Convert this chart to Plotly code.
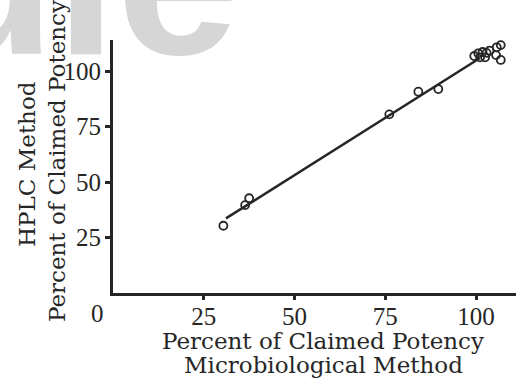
import plotly.graph_objects as go

# Data
micro_pct = [30.4, 37.5, 36.4, 76.1, 84.1, 89.6,
             99.5, 100.6, 101.8, 102.9, 101.1, 102.5, 103.7, 105.7, 106.8, 105.5, 106.8]
hplc_pct = [30.3, 42.7, 39.6, 80.5, 90.7, 91.9,
            106.8, 108.0, 108.6, 108.2, 106.2, 106.2, 109.2, 110.7, 111.7, 107.2, 105.0]
fit_x = [31.1, 101.0]
fit_y = [33.6, 105.8]
x_ticks = [25, 50, 75, 100]
y_ticks = [25, 50, 75, 100]
x_title = ["Percent of Claimed Potency", "Microbiological Method"]
y_title = ["HPLC Method", "Percent of Claimed Potency"]
watermark = "ule"

INK = "#262626"
FONT = "DejaVu Serif"
TICKFONT = "Liberation Serif"
TFS = 23   # title font size
KFS = 25   # tick font size

fig = go.Figure()
fig.add_trace(go.Scatter(x=fit_x, y=fit_y, mode="lines",
                         line=dict(color=INK, width=2.5), showlegend=False))
fig.add_trace(go.Scatter(x=micro_pct, y=hplc_pct, mode="markers",
                         marker=dict(symbol="circle-open", size=8, color=INK,
                                     line=dict(width=1.8, color=INK)),
                         showlegend=False, cliponaxis=False))

W, H = 516, 385
L, T, R, B = 113, 40, 0, 92
pw, ph = W - L - R, H - T - B

fig.update_layout(
    width=W, height=H,
    margin=dict(l=L, r=R, t=T, b=B, pad=0),
    paper_bgcolor="white", plot_bgcolor="white",
    font=dict(family=FONT, color=INK, size=TFS),
    xaxis=dict(range=[0, 111], tickvals=x_ticks, ticks="outside", ticklen=4,
               tickwidth=2.5, tickcolor=INK, showline=True, linewidth=3,
               linecolor=INK, showgrid=False, zeroline=False,
               ticklabelstandoff=-5,
               tickfont=dict(family=TICKFONT, size=KFS, color=INK)),
    yaxis=dict(range=[0, 114], tickvals=y_ticks, ticks="outside", ticklen=5,
               tickwidth=2.5, tickcolor=INK, showline=True, linewidth=3,
               linecolor=INK, showgrid=False, zeroline=False,
               ticklabelstandoff=-1,
               tickfont=dict(family=TICKFONT, size=KFS, color=INK)),
)

ann = []
# watermark (drawn first so it sits below other text)
ann.append(dict(text="<b>" + watermark + "</b>", xref="paper", yref="paper",
                x=(-81 - L) / pw, y=(H - B - 103) / ph, xanchor="left", yanchor="bottom",
                showarrow=False,
                font=dict(family="Liberation Sans", size=220, color="#d6d6d6")))
# origin label
ann.append(dict(text="0", xref="paper", yref="paper", x=(97 - L) / pw,
                y=(H - B - 313) / ph, xanchor="center", yanchor="middle",
                showarrow=False, font=dict(family=TICKFONT, size=KFS, color=INK)))
# x title lines
for txt, cy in zip(x_title, [341, 365]):
    ann.append(dict(text=txt, xref="paper", yref="paper", x=(323 - L) / pw,
                    y=(H - B - cy) / ph, xanchor="center", yanchor="middle",
                    showarrow=False, font=dict(family=FONT, size=TFS, color=INK)))
# y title lines (rotated)
for txt, cx, cy in zip(y_title, [27, 57], [164, 161]):
    ann.append(dict(text=txt, xref="paper", yref="paper", x=(cx - L) / pw,
                    y=(H - B - cy) / ph, xanchor="center", yanchor="middle",
                    textangle=-90, showarrow=False,
                    font=dict(family=FONT, size=TFS, color=INK)))
fig.update_layout(annotations=ann)

fig.write_html("out.html")
